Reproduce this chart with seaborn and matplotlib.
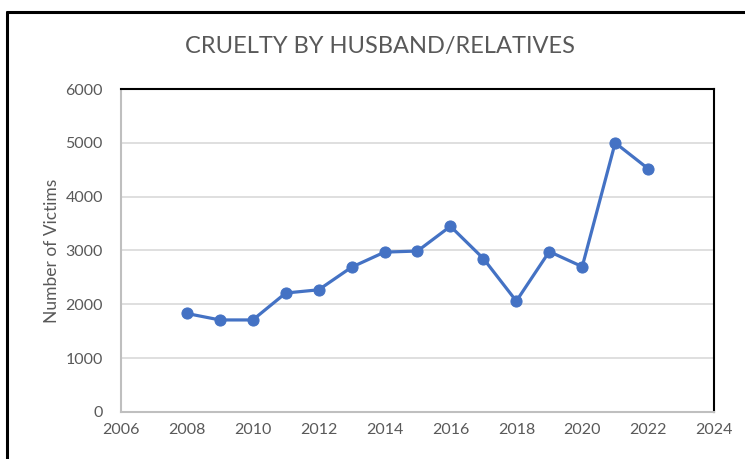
import matplotlib
matplotlib.use("Agg")
import matplotlib.pyplot as plt
from matplotlib.lines import Line2D
import pandas as pd
import seaborn as sns

# values
years = [2008, 2009, 2010, 2011, 2012, 2013, 2014, 2015,
         2016, 2017, 2018, 2019, 2020, 2021, 2022]
victims = [1830, 1710, 1710, 2210, 2270, 2690, 2970, 2990,
           3450, 2850, 2060, 2980, 2700, 5000, 4520]
x_ticks = [2006, 2008, 2010, 2012, 2014, 2016, 2018, 2020, 2022, 2024]
y_ticks = [0, 1000, 2000, 3000, 4000, 5000, 6000]

df = pd.DataFrame({"Year": years, "Victims": victims})

sns.set_theme(style="white")
plt.rcParams["font.family"] = ["Lato", "DejaVu Sans"]

fig = plt.figure(figsize=(7.45, 4.59), dpi=100)
ax = fig.add_axes([0.1624, 0.1024, 0.796, 0.7037])

sns.lineplot(data=df, x="Year", y="Victims", ax=ax, color="#4472C4",
             linewidth=2.3, marker="o", markersize=8,
             markeredgecolor="#4472C4")

ax.set_xlim(2006, 2024)
ax.set_ylim(0, 6000)
ax.set_xticks(x_ticks)
ax.set_yticks(y_ticks)
ax.yaxis.grid(True, color="#d9d9d9", linewidth=1.2)
ax.set_axisbelow(True)
ax.tick_params(axis="both", length=0, labelsize=11.5, colors="#595959")
ax.tick_params(axis="x", pad=8)
ax.tick_params(axis="y", pad=13)

ax.set_xlabel("")
ax.set_ylabel("Number of Victims", fontsize=12.5, color="#595959", labelpad=4)

for side in ["left", "bottom"]:
    ax.spines[side].set_color("#bfbfbf")
    ax.spines[side].set_linewidth(1.5)
for side in ["top", "right"]:
    ax.spines[side].set_color("black")
    ax.spines[side].set_linewidth(1.5)

fig.text(0.51, 0.898, "CRUELTY BY HUSBAND/RELATIVES", ha="center", va="center",
         fontsize=17, color="#595959")

# outer chart border (top and left visible in the crop)
fig.add_artist(Line2D([0.0094, 1.0], [0.974, 0.974], color="black", linewidth=2.2,
                      transform=fig.transFigure))
fig.add_artist(Line2D([0.0094, 0.0094], [0.0, 0.974], color="black", linewidth=2.2,
                      transform=fig.transFigure))

fig.savefig("out.png", dpi=100)
plt.close(fig)
